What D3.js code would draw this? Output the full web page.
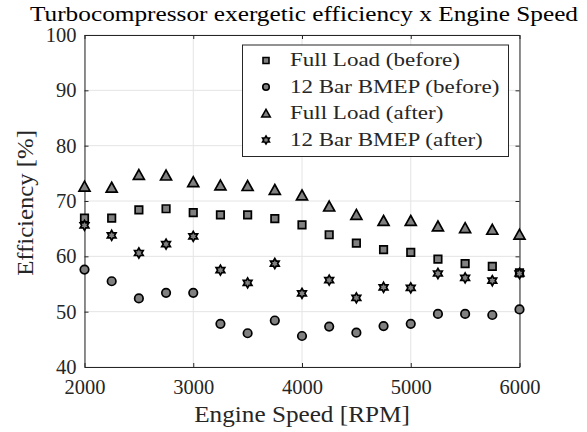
<!DOCTYPE html>
<html>
<head>
<meta charset="utf-8">
<script src="https://cdn.jsdelivr.net/npm/d3@7"></script>
<style>
  html, body { margin: 0; padding: 0; background: #fff; }
  svg { display: block; }
</style>
</head>
<body>
<script>
const speeds = [2000, 2250, 2500, 2750, 3000, 3250, 3500, 3750, 4000, 4250, 4500, 4750, 5000, 5250, 5500, 5750, 6000];
const fullLoadBefore = [66.9, 66.9, 68.4, 68.6, 67.9, 67.5, 67.5, 66.8, 65.7, 63.9, 62.4, 61.2, 60.7, 59.5, 58.7, 58.2, 57.0];
const bmepBefore     = [57.6, 55.5, 52.4, 53.4, 53.4, 47.8, 46.1, 48.4, 45.6, 47.3, 46.2, 47.4, 47.8, 49.6, 49.6, 49.4, 50.4];
const fullLoadAfter  = [72.6, 72.4, 74.7, 74.6, 73.4, 72.8, 72.7, 72.0, 71.0, 69.0, 67.5, 66.4, 66.4, 65.4, 65.1, 64.8, 63.9];
const bmepAfter      = [65.6, 63.8, 60.6, 62.2, 63.6, 57.5, 55.2, 58.7, 53.3, 55.7, 52.5, 54.4, 54.3, 56.9, 56.1, 55.6, 56.9];
const seriesNames = ["Full Load (before)", "12 Bar BMEP (before)", "Full Load (after)", "12 Bar BMEP (after)"];
const seriesMarkers = ["square", "circle", "triangle", "hexagram"];
const xTicks = [2000, 3000, 4000, 5000, 6000];
const yTicks = [40, 50, 60, 70, 80, 90, 100];
const titleText = "Turbocompressor exergetic efficiency x Engine Speed";
const xLabel = "Engine Speed [RPM]";
const yLabel = "Efficiency [%]";

const FONT = '"Liberation Serif", "Times New Roman", serif';
const W = 587, H = 432;
const margin = {left: 84.5, right: W - 519.5, top: 35, bottom: H - 367};
const iw = W - margin.left - margin.right, ih = H - margin.top - margin.bottom;
const axisColor = "#262626", gridColor = "#e4e4e4", fillColor = "#808080";

const svg = d3.select("body").append("svg").attr("width", W).attr("height", H);
const x = d3.scaleLinear().domain([2000, 6000]).range([margin.left, margin.left + iw]);
const y = d3.scaleLinear().domain([40, 100]).range([margin.top + ih, margin.top]);

// widen a Times-like text to approximate Computer Modern proportions
function stretch(sel, k) {
  sel.each(function() {
    const n = this.getComputedTextLength();
    d3.select(this).attr("textLength", n * k).attr("lengthAdjust", "spacingAndGlyphs");
  });
  return sel;
}

// grid
const grid = svg.append("g");
grid.selectAll("line.gx").data(xTicks).join("line")
  .attr("x1", d => x(d)).attr("x2", d => x(d)).attr("y1", y(40)).attr("y2", y(100))
  .attr("stroke", gridColor).attr("stroke-width", 1);
grid.selectAll("line.gy").data(yTicks).join("line")
  .attr("y1", d => y(d)).attr("y2", d => y(d)).attr("x1", x(2000)).attr("x2", x(6000))
  .attr("stroke", gridColor).attr("stroke-width", 1);

// axes
const fmt = d3.format("d");
const gx = svg.append("g").attr("transform", `translate(0,${y(40)})`)
  .call(d3.axisBottom(x).tickValues(xTicks).tickFormat(fmt).tickSizeInner(-4).tickSizeOuter(0).tickPadding(12));
const gxTop = svg.append("g").attr("transform", `translate(0,${y(100)})`)
  .call(d3.axisTop(x).tickValues(xTicks).tickFormat("").tickSizeInner(-4).tickSizeOuter(0));
const gy = svg.append("g").attr("transform", `translate(${x(2000)},0)`)
  .call(d3.axisLeft(y).tickValues(yTicks).tickFormat(fmt).tickSizeInner(-4).tickSizeOuter(0).tickPadding(8));
const gyR = svg.append("g").attr("transform", `translate(${x(6000)},0)`)
  .call(d3.axisRight(y).tickValues(yTicks).tickFormat("").tickSizeInner(-4).tickSizeOuter(0));
[gx, gxTop, gy, gyR].forEach(g => {
  g.attr("font-family", FONT).attr("font-size", 20.5);
  g.selectAll("path.domain").attr("stroke", axisColor).attr("stroke-width", 1);
  g.selectAll(".tick line").attr("stroke", axisColor).attr("stroke-width", 1);
  g.selectAll(".tick text").attr("fill", axisColor);
});

// markers
function markerPath(type, s) {
  if (type === "square") return d3.symbol(d3.symbolSquare, s * s)();
  if (type === "circle") return d3.symbol(d3.symbolCircle, Math.PI * s * s / 4)();
  if (type === "triangle") {
    const h = s * 0.9, w = s;
    return `M0,${-h * 0.55}L${w / 2},${h * 0.45}L${-w / 2},${h * 0.45}Z`;
  }
  const r = s / 2, pts = [];
  for (let i = 0; i < 12; i++) {
    const a = -Math.PI / 2 + i * Math.PI / 6;
    const rr = i % 2 === 0 ? r : r * 0.577;
    pts.push([rr * Math.cos(a), rr * Math.sin(a)]);
  }
  return "M" + pts.map(p => p[0].toFixed(2) + "," + p[1].toFixed(2)).join("L") + "Z";
}
const seriesData = [fullLoadBefore, bmepBefore, fullLoadAfter, bmepAfter];
const plotSizes = [7.5, 8.5, 11, 10];
const legendSizes = [6, 6.5, 8.5, 8];

seriesData.forEach((vals, i) => {
  svg.append("g").selectAll("path").data(vals).join("path")
    .attr("transform", (d, j) => `translate(${x(speeds[j])},${y(d)})`)
    .attr("d", markerPath(seriesMarkers[i], plotSizes[i]))
    .attr("fill", fillColor).attr("stroke", "#000").attr("stroke-width", 1.7)
    .attr("stroke-linejoin", "miter");
});

// title and labels
svg.append("text").attr("x", 304).attr("y", 20.5).attr("text-anchor", "middle")
  .attr("font-family", FONT).attr("font-size", 20.5)
  .attr("fill", "#000").attr("textLength", 548).attr("lengthAdjust", "spacingAndGlyphs")
  .text(titleText);
stretch(svg.append("text").attr("x", x(4000)).attr("y", 422).attr("text-anchor", "middle")
  .attr("font-family", FONT).attr("font-size", 24)
  .attr("fill", axisColor).text(xLabel), 1.05);
stretch(svg.append("text").attr("transform", `translate(33,203) rotate(-90)`).attr("text-anchor", "middle")
  .attr("font-family", FONT).attr("font-size", 24)
  .attr("fill", axisColor).text(yLabel), 1.03);

// legend
const lg = svg.append("g");
lg.append("rect").attr("x", 242.5).attr("y", 45).attr("width", 266).attr("height", 111.5)
  .attr("fill", "#fff").attr("stroke", axisColor).attr("stroke-width", 1);
seriesNames.forEach((name, i) => {
  const cy = 60.5 + i * 26.5;
  lg.append("path").attr("transform", `translate(266,${cy})`)
    .attr("d", markerPath(seriesMarkers[i], legendSizes[i]))
    .attr("fill", fillColor).attr("stroke", "#000").attr("stroke-width", 1.6);
  stretch(lg.append("text").attr("x", 290).attr("y", cy + 5.7).attr("fill", axisColor)
    .attr("font-family", FONT).attr("font-size", 19.5).text(name), 1.18);
});
</script>
</body>
</html>
